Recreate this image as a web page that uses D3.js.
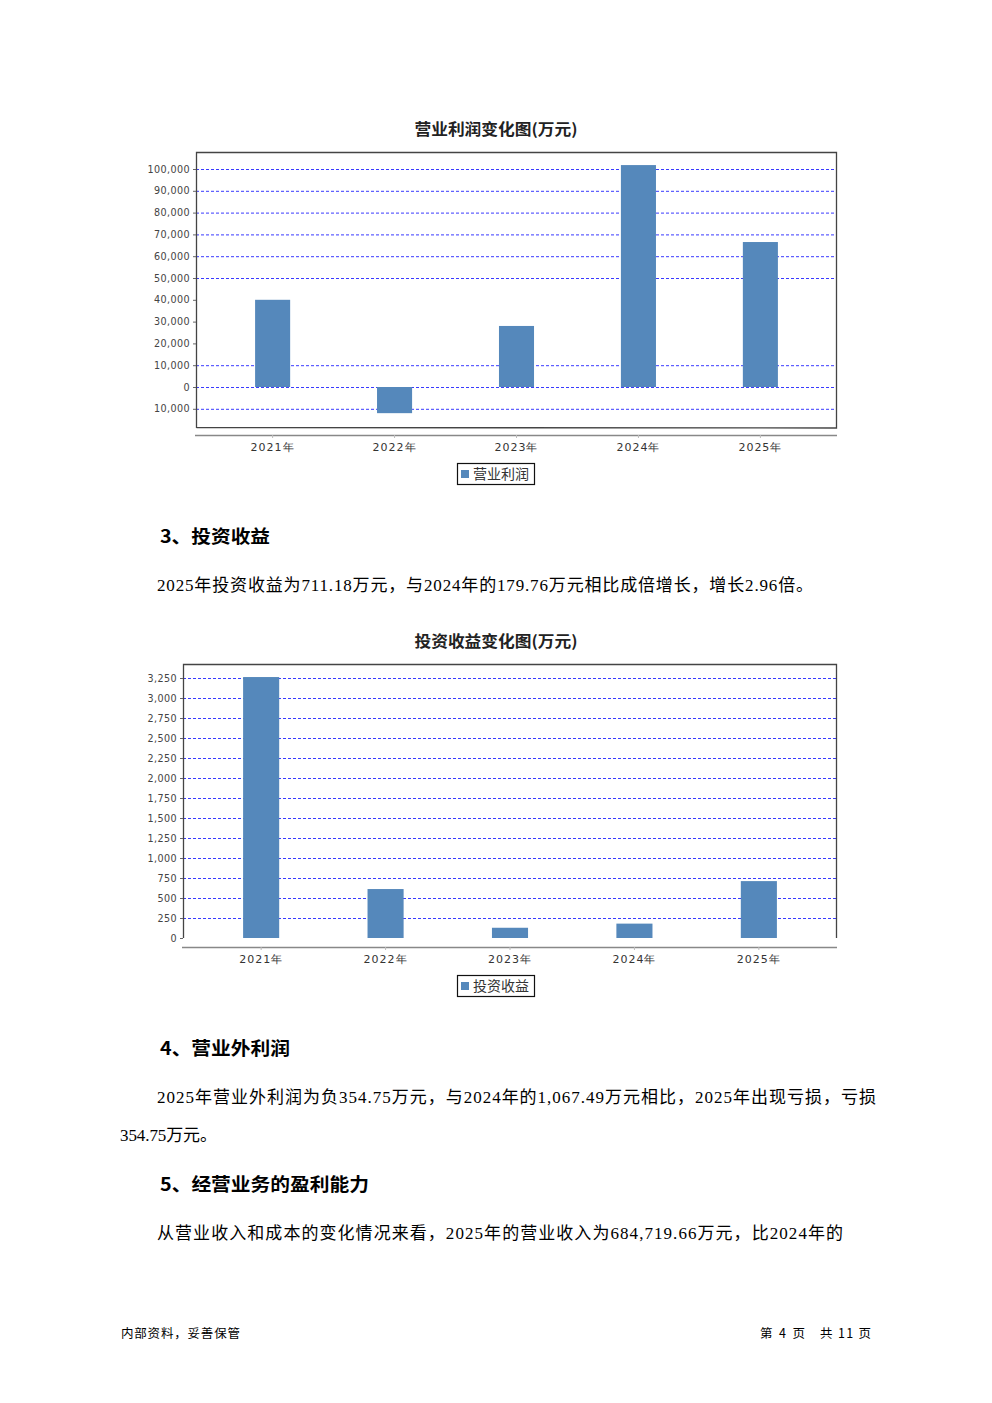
<!DOCTYPE html>
<html><head><meta charset="utf-8">
<script src="https://cdn.jsdelivr.net/npm/d3@7"></script>
<style>
html,body{margin:0;padding:0;background:#fff;}
svg{display:block;}
</style></head>
<body>
<svg id="page" width="992" height="1403"></svg>
<script>
// ---------- data ----------
const years = ["2021年","2022年","2023年","2024年","2025年"];
const opProfit = [40000, -12000, 28000, 101800, 66500];
const opTicks = [100000,90000,80000,70000,60000,50000,40000,30000,20000,10000,0,-10000];
const opTickLabels = ["100,000","90,000","80,000","70,000","60,000","50,000","40,000","30,000","20,000","10,000","0","10,000"];
const opGrid = [100000,90000,80000,70000,60000,50000,10000,0,-10000];

const invIncome = [3262, 612, 128, 179.76, 711.18];
const invTicks = [3250,3000,2750,2500,2250,2000,1750,1500,1250,1000,750,500,250,0];
const invTickLabels = ["3,250","3,000","2,750","2,500","2,250","2,000","1,750","1,500","1,250","1,000","750","500","250","0"];
const invGrid = [3250,3000,2750,2500,2250,2000,1750,1500,1250,1000,750,500,250];

const svg = d3.select("#page");
const CJK = "'Noto Sans CJK SC', 'Noto Sans', sans-serif";
const SERIF = "'Liberation Serif', 'Noto Sans CJK SC', serif";
const BAR = "#5588bb";
const GRID = "#3a3aff";

function chart(cfg){
  const g = svg.append("g");
  const y = d3.scaleLinear().domain(cfg.domain).range([cfg.y0, cfg.y1]);
  const x = d3.scaleBand().domain(years).range([cfg.px0, cfg.px1]).paddingInner(cfg.padIn).paddingOuter(cfg.padOut);
  // title
  g.append("text").attr("x", cfg.titleX).attr("y", cfg.titleY).attr("text-anchor","middle")
    .attr("font-family", CJK).attr("font-weight","bold").attr("font-size",15.5)
    .attr("textLength",163).attr("lengthAdjust","spacingAndGlyphs")
    .attr("fill","#222").text(cfg.title);
  // gridlines
  g.selectAll("line.grid").data(cfg.grid).enter().append("line")
    .attr("x1", cfg.px0).attr("x2", cfg.px1).attr("y1", d=>y(d)+0.5).attr("y2", d=>y(d)+0.5)
    .attr("stroke", GRID).attr("stroke-width",1).attr("stroke-dasharray","3,2");
  // bars
  g.selectAll("rect.bar").data(cfg.values).enter().append("rect")
    .attr("x",(d,i)=>x(years[i])).attr("width",x.bandwidth())
    .attr("y",d=>y(Math.max(0,d))).attr("height",d=>Math.abs(y(d)-y(0)))
    .attr("fill",BAR);
  // box
  const bp = d3.path();
  bp.moveTo(cfg.px0+0.5, cfg.pyBottom); bp.lineTo(cfg.px0+0.5, cfg.pyTop+0.5);
  bp.lineTo(cfg.px1-0.5, cfg.pyTop+0.5); bp.lineTo(cfg.px1-0.5, cfg.pyBottom);
  if (cfg.closed) bp.lineTo(cfg.px0+0.5, cfg.pyBottom-0.5);
  g.append("path").attr("d", bp.toString()).attr("fill","none").attr("stroke","#444").attr("stroke-width",1.3);
  // y axis ticks + labels
  const ya = d3.axisLeft(y).tickValues(cfg.ticks).tickSize(3).tickFormat((d,i)=>cfg.tickLabels[i]);
  const yg = g.append("g").attr("transform",`translate(${cfg.px0},0)`).call(ya);
  yg.select(".domain").remove();
  yg.selectAll(".tick line").attr("stroke","#666");
  yg.selectAll("text").attr("font-family","'DejaVu Sans', sans-serif").attr("font-size",9.6)
    .attr("letter-spacing",0.4).attr("fill","#444").attr("x",-6);
  // x axis
  const xa = d3.axisBottom(x).tickSize(3).tickSizeOuter(0);
  const xg = g.append("g").attr("transform",`translate(0,${cfg.xAxisY})`).call(xa);
  xg.select(".domain").attr("d", `M${cfg.ax0},0.5H${cfg.px1}`).attr("stroke","#888").attr("stroke-width",1.5);
  xg.selectAll(".tick line").attr("stroke","#bbb");
  xg.selectAll("text").attr("font-family","'DejaVu Sans', sans-serif").attr("font-size",11)
    .attr("letter-spacing",1).attr("fill","#333").attr("dy","0.95em");
  // legend
  const lg = g.append("g").attr("transform",`translate(${cfg.legX},${cfg.legY})`);
  lg.append("rect").attr("x",0.5).attr("y",0.5).attr("width",77).attr("height",21).attr("fill","#fff").attr("stroke","#111").attr("stroke-width",1.2);
  lg.append("rect").attr("x",4).attr("y",7).attr("width",8).attr("height",8).attr("fill",BAR);
  lg.append("text").attr("x",16).attr("y",16).attr("font-family",CJK).attr("font-size",14).attr("fill","#333").text(cfg.legend);
}

chart({
  title:"营业利润变化图(万元)", titleX:496, titleY:135,
  domain:[0,100000], y0:387, y1:169,
  padIn:0.7125, padOut:0.4846,
  px0:196, px1:837, pyTop:152, pyBottom:428, closed:true,
  grid:opGrid, values:opProfit, ticks:opTicks, tickLabels:opTickLabels,
  xAxisY:435, ax0:195, legX:457, legY:463, legend:"营业利润"
});

chart({
  title:"投资收益变化图(万元)", titleX:496, titleY:647,
  domain:[0,3250], y0:938, y1:678,
  padIn:0.71, padOut:0.483,
  px0:183, px1:837, pyTop:664, pyBottom:938, closed:false,
  grid:invGrid, values:invIncome, ticks:invTicks, tickLabels:invTickLabels,
  xAxisY:947, ax0:182, legX:457, legY:975, legend:"投资收益"
});

// ---------- body text ----------
function txt(x,y,s,opt={}){
  const t = svg.append("text").attr("x",x).attr("y",y)
    .attr("font-family",opt.family||SERIF).attr("font-size",opt.size||16)
    .attr("font-weight",opt.weight||"normal").attr("fill","#000")
    .attr("text-anchor",opt.anchor||"start").text(s);
  if (opt.len) t.attr("textLength",opt.len).attr("lengthAdjust",opt.adj||"spacing");
}
txt(160,543,"3、投资收益",{family:CJK,weight:"bold",size:18,len:110,adj:"spacingAndGlyphs"});
txt(157,591,"2025年投资收益为711.18万元，与2024年的179.76万元相比成倍增长，增长2.96倍。",{size:17,len:656});
txt(160,1055,"4、营业外利润",{family:CJK,weight:"bold",size:18,len:130,adj:"spacingAndGlyphs"});
txt(157,1103,"2025年营业外利润为负354.75万元，与2024年的1,067.49万元相比，2025年出现亏损，亏损",{size:17,len:719});
txt(120,1141,"354.75万元。",{size:17,len:97});
txt(160,1191,"5、经营业务的盈利能力",{family:CJK,weight:"bold",size:18,len:209,adj:"spacingAndGlyphs"});
txt(157,1239,"从营业收入和成本的变化情况来看，2025年的营业收入为684,719.66万元，比2024年的",{size:17,len:686});

// footer
txt(121,1338,"内部资料，妥善保管",{family:CJK,size:12.5,len:119});
txt(760,1338,"第 4 页",{family:CJK,size:12.5,len:45});
txt(820,1338,"共 11 页",{family:CJK,size:12.5,len:51});
</script>
</body></html>
